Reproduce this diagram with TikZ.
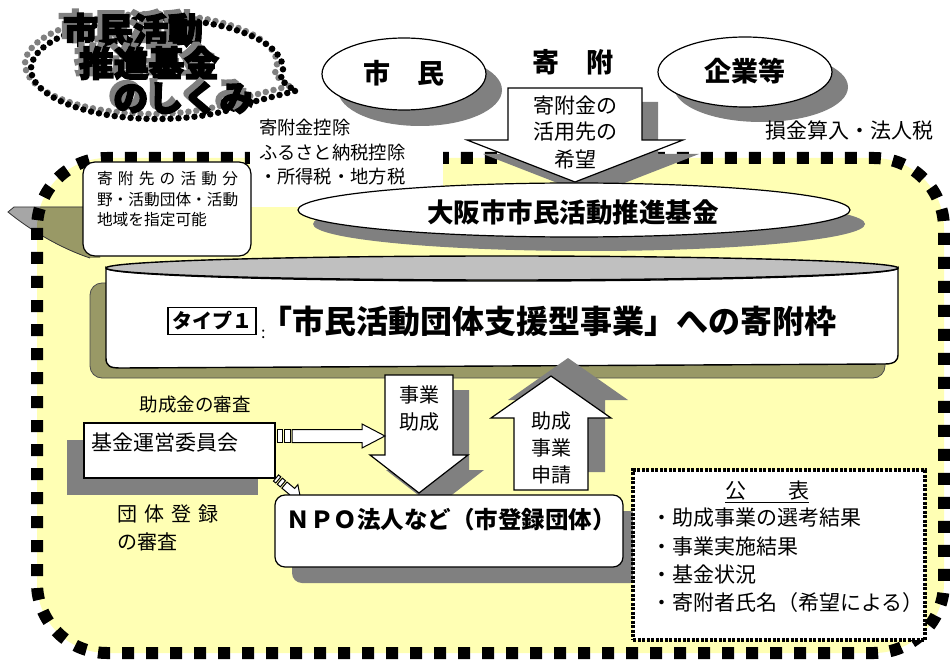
\documentclass[tikz,border=0pt]{standalone}
\usepackage{fontspec}
\setmainfont{Noto Sans CJK JP}
\newfontfamily\jpheavy{Noto Sans CJK JP}[FakeBold=4]
\usetikzlibrary{shapes.geometric,calc}
\definecolor{yfill}{RGB}{255,255,180}
\definecolor{shgray}{RGB}{128,128,128}
\definecolor{olivesh}{RGB}{153,153,102}
\definecolor{lidgray}{RGB}{192,192,192}
\definecolor{tailgray}{RGB}{166,166,166}
\newcommand\fsz[1]{\fontsize{#1}{#1}\selectfont}
\newcommand\shadowtxt[1]{\makebox[0pt][l]{\hspace{-5pt}\raisebox{4pt}{\textcolor{shgray}{#1}}}#1}
\newcommand\blockdown[6]{(#1-#2,#3) -- (#1+#2,#3) -- (#1+#2,#4) -- (#1+#5,#4) -- (#1,#6) -- (#1-#5,#4) -- (#1-#2,#4) -- cycle}
\begin{document}
\begin{tikzpicture}[x=1pt,y=-1pt,
  every node/.style={inner sep=0pt,outer sep=0pt},
  shadowfill/.style={fill=shgray},
  whitebox/.style={draw=black,fill=white,line width=1.2pt},
  blockarrow/.style={draw=black,fill=white,line width=1.2pt,line join=miter},
  txt/.style={font=\fsz{#1}},
  btxt/.style={font=\bfseries\fsz{#1}},
  titletxt/.style={font=\jpheavy\bfseries\fsz{35}}]
\useasboundingbox (0,0) rectangle (950,660);
\fill[white] (0,0) rectangle (950,660);

% yellow region
\fill[yfill, rounded corners=70pt] (37,158) rectangle (944,653);
% callout tail shadow
\fill[tailgray] (100,207) -- (14,207) -- (8,212) .. controls (30,230) and (60,248) .. (90,258) -- (100,258) -- cycle;
\begin{scope}
  \clip[rounded corners=70pt] (37,158) rectangle (944,653);
  \fill[olivesh] (100,207) -- (14,207) -- (8,212) .. controls (30,230) and (60,248) .. (90,258) -- (100,258) -- cycle;
\end{scope}
\draw[black!80, line width=0.8pt] (100,207) -- (14,207) -- (8,212) .. controls (30,230) and (60,248) .. (90,258);
% dashed border
\draw[line width=12pt, dash pattern=on 12pt off 12pt, rounded corners=70pt] (37,158) rectangle (944,653);

% white area behind tax text
\fill[white] (250,100) rectangle (443,207);
\node[anchor=west, txt=18.3] (taxa) at (259,128) {寄附金控除};
\node[anchor=west, txt=18.3] (taxb) at (259,153) {ふるさと納税控除};
\node[anchor=west, txt=18.3] (taxc) at (259,177) {・所得税・地方税};

% title bubble
\draw[shgray, line width=6.5pt, line cap=round, dash pattern=on 0pt off 8pt, shift={(-6,-5)}]
  (295,91) -- plot[domain=42:372, samples=90] ({157+126*cos(\x)}, {69+50*sin(\x)}) -- cycle;
\draw[black, line width=6.5pt, line cap=round, dash pattern=on 0pt off 8pt]
  (295,91) -- plot[domain=42:372, samples=90] ({157+126*cos(\x)}, {69+50*sin(\x)}) -- cycle;
\node[titletxt] (t1) at (133,28) {\shadowtxt{市民活動}};
\node[titletxt] (t2) at (149,61) {\shadowtxt{推進基金}};
\node[titletxt] (t3) at (184,96) {\shadowtxt{のしくみ}};

% citizens / companies
\fill[shadowfill] (420,90) ellipse [x radius=82, y radius=36];
\node[ellipse, whitebox, minimum width=164pt, minimum height=72pt] (shimin) at (404,74) {};
\node[btxt=27] (shimintxt) at (404,73) {市　民};
\fill[shadowfill] (761,87) ellipse [x radius=87, y radius=35];
\node[ellipse, whitebox, minimum width=174pt, minimum height=70pt] (kigyo) at (745,72) {};
\node[btxt=27] (kigyotxt) at (745,71) {企業等};
\node[btxt=27] (kifu) at (573,62) {寄　附};
\node[txt=21] (sonkin) at (849,130) {損金算入・法人税};

% big downward arrow
\fill[shadowfill, shift={(16,14)}] \blockdown{575}{67}{88}{140}{108}{182};
\draw[blockarrow] \blockdown{575}{67}{88}{140}{108}{182};
\node[txt=21] (k1) at (575,106) {寄附金の};
\node[txt=21] (k2) at (575,132) {活用先の};
\node[txt=21] (k3) at (575,160) {希望};

% fund ellipse
\fill[shadowfill] (589,224) ellipse [x radius=276, y radius=27];
\node[ellipse, whitebox, minimum width=552pt, minimum height=54pt] (kikin) at (574,210) {};
\node[btxt=26.5] (kikintxt) at (573,212) {大阪市市民活動推進基金};

% callout box
\node[whitebox, rounded corners=12pt, minimum width=168pt, minimum height=94pt] (callout) at (167,209) {};
\node[anchor=west, txt=15.7] (c1) at (97,179) {\makebox[141pt][s]{寄\hfil 附\hfil 先\hfil の\hfil 活\hfil 動\hfil 分}};
\node[anchor=west, txt=15.7] (c2) at (97,200) {野・活動団体・活動};
\node[anchor=west, txt=15.7] (c3) at (97,220) {地域を指定可能};

% cylinder
\draw[fill=olivesh, draw=black!70, line width=0.8pt, rounded corners=12pt] (90,283) rectangle (885,378);
\draw[fill=white, line width=1.4pt] (106,268) -- (106,358) .. controls (106,366) and (110,368) .. (120,368)
  -- (885,364) .. controls (895,364) and (898,360) .. (898,355) -- (898,268)
  .. controls (898,275.2) and (719.3,281) .. (502,281) .. controls (284.7,281) and (106,275.2) .. (106,268) -- cycle;
\draw[fill=lidgray, line width=1.4pt] (502,268) ellipse [x radius=396, y radius=12];
\node[draw, line width=1.2pt, inner sep=4pt, btxt=20] (type1) at (212,321) {タイプ１};
\node[anchor=west, btxt=32] (maintext) at (261,322) {\raisebox{-5pt}{\mdseries\fsz{16}:}\hspace{-5pt}「市民活動団体支援型事業」への寄附枠};

% application arrow (up)
\fill[shadowfill, shift={(17,-18)}] \blockdown{551}{37}{490}{418}{60}{376};
\draw[blockarrow] \blockdown{551}{37}{490}{418}{60}{376};
\node[txt=20] (a1) at (551,421) {助成};
\node[txt=20] (a2) at (551,448) {事業};
\node[txt=20] (a3) at (551,475) {申請};

% grant arrow (down)
\fill[shadowfill, shift={(16,15)}] \blockdown{419}{34}{375}{455}{49}{493};
\draw[blockarrow] \blockdown{419}{34}{375}{455}{49}{493};
\node[txt=20] (g1) at (419,395) {事業};
\node[txt=20] (g2) at (419,422) {助成};

% committee
\fill[shadowfill] (67,440) rectangle (258,495);
\node[whitebox, minimum width=191pt, minimum height=55pt] (iinkai) at (179.5,450.5) {};
\node[anchor=west, txt=21] (iinkaitxt) at (91,443) {基金運営委員会};
\node[txt=18.5] (shinsa1) at (195,405) {助成金の審査};
\node[anchor=west, txt=20] (dantai1) at (117,514) {\makebox[101pt][s]{団\hfil 体\hfil 登\hfil 録}};
\node[anchor=west, txt=20] (dantai2) at (117,542) {の審査};

% striped arrows
\draw[blockarrow, line width=1pt] (277,429.5) rectangle (282,442.5);
\draw[blockarrow, line width=1pt] (284,429.5) rectangle (290,442.5);
\draw[blockarrow, line width=1pt] (292,429.5) -- (362,429.5) -- (362,424) -- (385,436) -- (362,448) -- (362,442.5) -- (292,442.5) -- cycle;
\begin{scope}[shift={(276,478)}, rotate=-40]
  \draw[blockarrow, line width=1pt] (0,-4) rectangle (3,4);
  \draw[blockarrow, line width=1pt] (5,-4) rectangle (9,4);
  \draw[blockarrow, line width=1pt] (11,-4) -- (21,-4) -- (21,-9) -- (32,0) -- (21,9) -- (21,4) -- (11,4) -- cycle;
\end{scope}

% NPO box
\fill[shadowfill, rounded corners=10pt] (292,511) rectangle (640,583);
\node[whitebox, rounded corners=10pt, minimum width=348pt, minimum height=72pt] (npo) at (449,531) {};
\node[btxt=23.5] (npotxt) at (451,520) {ＮＰＯ法人など（市登録団体）};

% public announcement box
\node[draw, fill=white, line width=4pt, dash pattern=on 3pt off 1.5pt, minimum width=292pt, minimum height=170pt] (kohyo) at (779,555) {};
\node[txt=21] (kohyot) at (767,492) {\underline{公　　表}};
\node[anchor=west, txt=21] (p1) at (651,518) {・助成事業の選考結果};
\node[anchor=west, txt=21] (p2) at (651,547) {・事業実施結果};
\node[anchor=west, txt=21] (p3) at (651,575) {・基金状況};
\node[anchor=west, txt=21] (p4) at (651,603) {・寄附者氏名（希望による）};
\end{tikzpicture}
\end{document}
